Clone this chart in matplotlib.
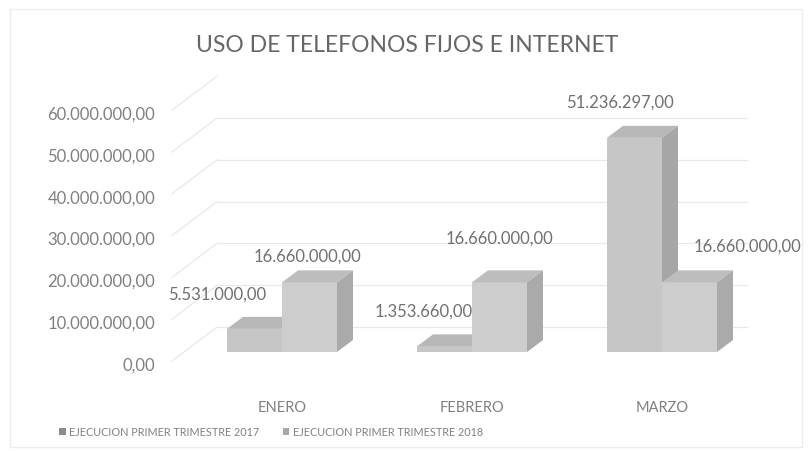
import matplotlib.pyplot as plt
import matplotlib.transforms as mtransforms
from matplotlib.patches import Polygon, Patch, Rectangle
from matplotlib.lines import Line2D

# Data
meses = ['ENERO', 'FEBRERO', 'MARZO']
ejec_2017 = [5531000.00, 1353660.00, 51236297.00]
ejec_2018 = [16660000.00, 16660000.00, 16660000.00]
series_labels = ['EJECUCION PRIMER TRIMESTRE 2017', 'EJECUCION PRIMER TRIMESTRE 2018']
yticks = [0, 10e6, 20e6, 30e6, 40e6, 50e6, 60e6]

plt.rcParams['font.family'] = ['Lato', 'DejaVu Sans']

W, H = 811, 452
fig = plt.figure(figsize=(W / 100, H / 100), dpi=100)
fig.patch.set_facecolor('white')


def fmt(v):
    # spanish number format: 16.660.000,00
    return f'{v:,.2f}'.replace(',', 'X').replace('.', ',').replace('X', '.')


# axes = front plane of the 3D box (pixel layout)
ax_left, ax_right = 172, 748
ax_bottom = H - 364
px_per_unit_y = 41.8 / 10e6
ymax = 62e6
ax = fig.add_axes([ax_left / W, ax_bottom / H,
                   (ax_right - ax_left) / W, ymax * px_per_unit_y / H])
px_per_cat = 190
x0 = -(282 - ax_left) / px_per_cat
ax.set_xlim(x0, x0 + (ax_right - ax_left) / px_per_cat)
ax.set_ylim(0, ymax)
for s in ax.spines.values():
    s.set_visible(False)
ax.patch.set_alpha(0)

txt_col = '#808080'
grid_col = '#e8e8e8'

ax.set_yticks(yticks)
ax.set_yticklabels([fmt(v) for v in yticks])
ax.tick_params(axis='y', length=0, pad=12, labelsize=12, labelcolor=txt_col)
ax.set_xticks(range(len(meses)))
ax.set_xticklabels(meses)
ax.tick_params(axis='x', length=0, pad=27, labelsize=10.5, labelcolor=txt_col)

# back wall gridlines + side wall diagonals
back_dx, back_dy = 45, 36
back_tr = mtransforms.offset_copy(ax.get_yaxis_transform(), fig=fig, x=back_dx, y=back_dy, units='dots')
ax.hlines(yticks, 0, 1, transform=back_tr, colors=grid_col, lw=0.9, zorder=0)
fig.canvas.draw()
for v in yticks:
    fx, fy = ax.get_yaxis_transform().transform((0, v))
    fig.add_artist(Line2D([fx, fx + back_dx], [fy + 2, fy + back_dy], transform=None,
                          color=grid_col, lw=0.9, zorder=0))

# 3D bars
bar_w = 55 / px_per_cat
depth_x = 16 / px_per_cat
depth_y = 12 / px_per_unit_y
bar_tr = mtransforms.offset_copy(ax.transData, fig=fig, x=0, y=11, units='dots')


def bar3d(xl, v, front, top, side, z):
    xr = xl + bar_w
    ax.add_patch(Polygon([(xl, 0), (xr, 0), (xr, v), (xl, v)], closed=True,
                         facecolor=front, edgecolor='none', transform=bar_tr, zorder=z))
    ax.add_patch(Polygon([(xl, v), (xr, v), (xr + depth_x, v + depth_y), (xl + depth_x, v + depth_y)],
                         closed=True, facecolor=top, edgecolor='none', transform=bar_tr, zorder=z))
    ax.add_patch(Polygon([(xr, 0), (xr, v), (xr + depth_x, v + depth_y), (xr + depth_x, depth_y)],
                         closed=True, facecolor=side, edgecolor='none', transform=bar_tr, zorder=z))


for i in range(len(meses)):
    bar3d(i - bar_w, ejec_2017[i], '#c6c6c6', '#b8b8b8', '#a6a6a6', 2 + i)
    bar3d(i, ejec_2018[i], '#cdcdcd', '#bdbdbd', '#aaaaaa', 2.5 + i)

# data labels (manual offsets as in the original, pixels)
off_2017 = [(-37, 35), (-21, 36), (-15, 36)]
off_2018 = [(-2, 27), (0, 45), (58, 37)]

for i in range(len(meses)):
    ax.annotate(fmt(ejec_2017[i]), xy=(i - bar_w / 2, ejec_2017[i]), xycoords=bar_tr,
                xytext=off_2017[i], textcoords='offset pixels', ha='center', va='center',
                fontsize=12, color='#707070', annotation_clip=False, zorder=10)
    ax.annotate(fmt(ejec_2018[i]), xy=(i + bar_w / 2, ejec_2018[i]), xycoords=bar_tr,
                xytext=off_2018[i], textcoords='offset pixels', ha='center', va='center',
                fontsize=12, color='#707070', annotation_clip=False, zorder=10)

# title
fig.text(407 / W, 1 - 45 / H, 'USO DE TELEFONOS FIJOS E INTERNET', ha='center', va='center',
         fontsize=16.5, color='#666666')

# legend
handles = [Patch(facecolor='#8c8c8c', edgecolor='none'), Patch(facecolor='#a8a8a8', edgecolor='none')]
fig.legend(handles, series_labels, loc='center', bbox_to_anchor=(271 / W, 1 - 433 / H),
           ncol=2, frameon=False, fontsize=7.8, labelcolor=txt_col, handlelength=0.6,
           handleheight=0.6, handletextpad=0.3, columnspacing=2.2)

# chart border
fig.add_artist(Rectangle((10 / W, 4 / H), 792 / W, 438 / H, transform=fig.transFigure,
                         fill=False, edgecolor='#ececec', lw=1.0))

fig.savefig('out.png', dpi=100)
